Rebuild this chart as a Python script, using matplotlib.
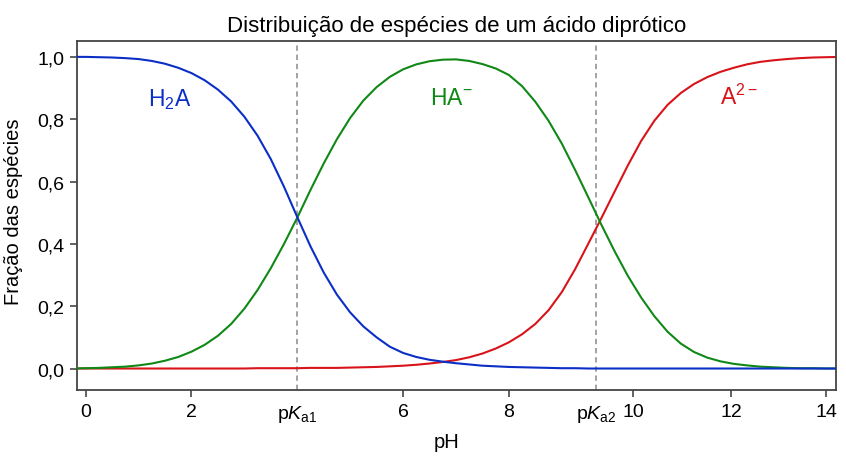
import numpy as np
import matplotlib
matplotlib.use("Agg")
import matplotlib.pyplot as plt

plt.rcParams['font.family'] = ['Liberation Sans', 'DejaVu Sans']
plt.rcParams['mathtext.fontset'] = 'custom'
plt.rcParams['mathtext.rm'] = 'Liberation Sans'
plt.rcParams['mathtext.it'] = 'Liberation Sans:italic'

# pH grid of the readings (step 0.25)
ph = np.arange(-0.25, 14.26, 0.25)

# fractions
h2a = [1.000, 1.000, 0.999, 0.998, 0.996, 0.993, 0.987, 0.978, 0.965, 0.948,
       0.925, 0.895, 0.857, 0.808, 0.747, 0.672, 0.583, 0.486, 0.392, 0.308,
       0.237, 0.180, 0.135, 0.100, 0.070, 0.050, 0.037, 0.028, 0.022, 0.017,
       0.013, 0.009, 0.007, 0.005, 0.004, 0.003, 0.002, 0.001, 0.001, 0.000,
       0.000, 0.000, 0.000, 0.000, 0.000, 0.000, 0.000, 0.000, 0.000, 0.000,
       0.000, 0.000, 0.000, 0.000, 0.000, 0.000, 0.000, 0.000, 0.000]
ha = [0.000, 0.001, 0.002, 0.004, 0.006, 0.010, 0.016, 0.025, 0.037, 0.054,
      0.076, 0.105, 0.143, 0.192, 0.252, 0.322, 0.400, 0.484, 0.573, 0.658,
      0.736, 0.804, 0.860, 0.903, 0.936, 0.960, 0.976, 0.986, 0.991, 0.992,
      0.987, 0.977, 0.963, 0.942, 0.906, 0.856, 0.795, 0.722, 0.638, 0.550,
      0.461, 0.376, 0.297, 0.228, 0.168, 0.118, 0.080, 0.053, 0.035, 0.023,
      0.015, 0.010, 0.006, 0.004, 0.002, 0.001, 0.001, 0.000, 0.000]
a2 = [0.000, 0.000, 0.000, 0.000, 0.000, 0.000, 0.000, 0.000, 0.000, 0.000,
      0.000, 0.000, 0.000, 0.000, 0.001, 0.001, 0.001, 0.001, 0.002, 0.002,
      0.002, 0.003, 0.004, 0.005, 0.007, 0.009, 0.012, 0.016, 0.021, 0.027,
      0.036, 0.048, 0.064, 0.084, 0.110, 0.143, 0.187, 0.245, 0.318, 0.400,
      0.483, 0.568, 0.652, 0.730, 0.795, 0.846, 0.884, 0.913, 0.935, 0.952,
      0.965, 0.976, 0.984, 0.989, 0.993, 0.996, 0.998, 0.999, 1.000]

pka1 = 4.0
pka2 = 9.65

xticks = [0, 2, 6, 8, 10.35, 12.2, 14.0]
xticklabels = ['0', '2', '6', '8', '10', '12', '14']
yticks = [0.0, 0.2, 0.4, 0.6, 0.8, 1.0]
yticklabels = ['0,0', '0,2', '0,4', '0,6', '0,8', '1,0']

c_blue = '#0b2fc6'
c_green = '#108816'
c_red = '#d8141a'

fig = plt.figure(figsize=(8.46, 4.64), dpi=100)
ax = fig.add_axes([0.0910, 0.1573, 0.8968, 0.7522])

ax.axvline(pka1, color='#8a8a8a', lw=1.1, ls=(0, (3.5, 2.5)), zorder=1)
ax.axvline(pka2, color='#8a8a8a', lw=1.1, ls=(0, (3.5, 2.5)), zorder=1)

ax.plot(ph, a2, color=c_red, lw=1.5, zorder=2)
ax.plot(ph, ha, color=c_green, lw=1.5, zorder=3)
ax.plot(ph, h2a, color=c_blue, lw=1.5, zorder=4)

ax.text(1.18, 0.846, r'H$_2$A', color=c_blue, fontsize=16.5, ha='left', va='baseline')
ax.text(6.51, 0.85, r'HA$^{-}$', color=c_green, fontsize=16.5, ha='left', va='baseline')
ax.text(11.99, 0.85, r'A$^{2-}$', color=c_red, fontsize=16.5, ha='left', va='baseline')

ax.set_xlim(-0.164, 14.178)
ax.set_ylim(-0.069, 1.051)

ax.set_xticks(xticks)
ax.set_xticklabels(xticklabels)
ax.set_xticks([pka1, pka2], [r'p$K_{\mathrm{a1}}$', r'p$K_{\mathrm{a2}}$'], minor=True)
ax.set_yticks(yticks)
ax.set_yticklabels(yticklabels)

ax.tick_params(axis='both', which='major', direction='out', length=5, width=1.3,
               color='#555555', labelsize=14, pad=4)
ax.tick_params(axis='x', which='minor', length=0, labelsize=14, pad=9)
ax.tick_params(top=False, right=False)

for s in ax.spines.values():
    s.set_color('#444444')
    s.set_linewidth(1.3)

ax.set_xlabel('pH', fontsize=14.5)
ax.xaxis.set_label_coords(0.4877, -0.120)
ax.set_ylabel('Fração das espécies', fontsize=14.5)
ax.yaxis.set_label_coords(-0.071, 0.514)
ax.set_title('Distribuição de espécies de um ácido diprótico', fontsize=16, pad=7)

fig.savefig('out.png', dpi=100, facecolor='white')
